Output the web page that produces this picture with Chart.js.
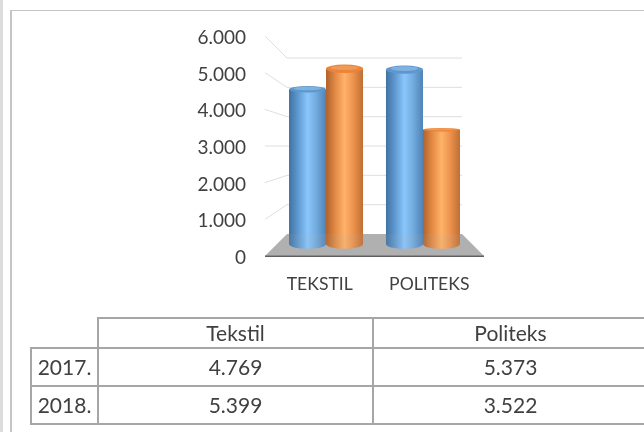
<!DOCTYPE html>
<html>
<head>
<meta charset="utf-8">
<script src="https://cdn.jsdelivr.net/npm/chart.js@4"></script>
<style>
html,body{margin:0;padding:0;background:#fff;width:644px;height:432px;overflow:hidden}
#wrap{position:relative;width:644px;height:432px;overflow:hidden}
canvas{position:absolute;left:0;top:0}
.ln{position:absolute;background:#c4c4c4}
table{position:absolute;left:30px;top:317px;border-collapse:collapse;table-layout:fixed;width:617px;
 font-family:Lato,sans-serif;font-size:21px;color:#404040}
td{border:2px solid #a6a6a6;padding:0 0 2px 0;text-align:center;box-sizing:border-box;line-height:1}
td.blank{border-top:none;border-left:none}
</style>
</head>
<body>
<div id="wrap">
<canvas id="c" width="644" height="432"></canvas>
<div class="ln" style="left:0;top:0;width:3px;height:432px;background:#dcdcdc"></div>
<div class="ln" style="left:10px;top:10px;width:2px;height:422px"></div>
<div class="ln" style="left:10px;top:10px;width:634px;height:1px"></div>
<table id="t"></table>
</div>
<script>
const categories = ["TEKSTIL", "POLITEKS"];
const yearLabels = ["2017.", "2018."];
const tableHeads = ["Tekstil", "Politeks"];
const values2017 = [4769, 5373];
const values2018 = [5399, 3522];
const tickLabels = ["0", "1.000", "2.000", "3.000", "4.000", "5.000", "6.000"];

const FONT = 'Lato, sans-serif';
const DEPTH_SCALE = 0.885;

const rows = [
  ["", ...tableHeads],
  [yearLabels[0], ...values2017.map(v => tickFmt(v))],
  [yearLabels[1], ...values2018.map(v => tickFmt(v))]
];
function tickFmt(v){ const s = String(v); return s.slice(0, -3) + "." + s.slice(-3); }
const t = document.getElementById("t");
t.innerHTML = '<colgroup><col style="width:67px"><col style="width:275px"><col style="width:275px"></colgroup>' +
  rows.map((r, i) => '<tr style="height:' + (i === 0 ? 30 : 38) + 'px">' +
    r.map((c, j) => '<td' + (i === 0 && j === 0 ? ' class="blank"' : '') + '>' + c + '</td>').join('') + '</tr>').join('');

const FLOOR = "#b0b0b0";
const LIFT = 2; // the room sits slightly above the tick label centres
const room = {
  id: "room",
  beforeDatasetsDraw(chart) {
    const { ctx, chartArea: a, scales: { y } } = chart;
    const inset = 22, bottomBack = a.bottom - 22;
    const backScale = (bottomBack - (a.top + 22)) / (a.bottom - a.top);
    ctx.save();
    ctx.translate(0, -LIFT);
    ctx.strokeStyle = "#dedede";
    ctx.lineWidth = 1;
    y.ticks.forEach(tk => {
      const py = y.getPixelForValue(tk.value);
      const by = bottomBack - (a.bottom - py) * backScale;
      ctx.beginPath();
      if (tk.value !== 0) {
        ctx.moveTo(a.left, py);
        ctx.lineTo(a.left + inset, by);
        ctx.lineTo(a.right - inset, by);
        ctx.stroke();
      }
    });
    ctx.fillStyle = FLOOR;
    floorPath(ctx, a, inset, bottomBack);
    ctx.fill();
    ctx.fillStyle = "#5f5f5f";
    ctx.fillRect(a.left, a.bottom - 0.5, a.right - a.left, 1.5);
    const cx = (a.left + a.right) / 2;
    ctx.translate(cx, a.bottom - 12);
    ctx.scale(DEPTH_SCALE, DEPTH_SCALE);
    ctx.translate(-cx, -a.bottom);
  },
  afterDatasetsDraw(chart) {
    const { ctx, chartArea: a } = chart;
    const palettes = [
      { stops: ["#41729f", "#5f9ad2", "#8ac6fb", "#74addf", "#4f83b8"], top: "#5e97cd", lip: "#7fb2e0" },
      { stops: ["#ad622c", "#e38a45", "#ffb269", "#ee9550", "#c06e33"], top: "#ea8438", lip: "#f09a58" }
    ];
    chart.data.datasets.forEach((ds, di) => {
      const p = palettes[di];
      chart.getDatasetMeta(di).data.forEach(b => {
        const hw = b.width / 2;
        const g = ctx.createLinearGradient(b.x - hw, 0, b.x + hw, 0);
        p.stops.forEach((c, i) => g.addColorStop([0, 0.25, 0.5, 0.72, 1][i], c));
        ctx.fillStyle = g;
        ctx.fillRect(b.x - hw, b.y, b.width, b.base - b.y);
        ctx.beginPath();
        ctx.ellipse(b.x, b.base, hw, 5.5, 0, 0, Math.PI * 2);
        ctx.fill();
        const ry = Math.max(2, Math.abs(b.y - 165) * 0.045);
        ctx.beginPath();
        ctx.ellipse(b.x, b.y, hw, ry, 0, 0, Math.PI * 2);
        ctx.fillStyle = p.top;
        ctx.fill();
        ctx.beginPath();
        ctx.ellipse(b.x, b.y - ry * 0.25, hw * 0.75, ry * 0.55, 0, 0, Math.PI * 2);
        ctx.fillStyle = p.lip;
        ctx.fill();
      });
    });
    ctx.restore();
    ctx.save();
    ctx.translate(0, -LIFT);
    ctx.fillStyle = "rgba(176,176,176,0.1)";
    floorPath(ctx, a, 22, a.bottom - 22);
    ctx.fill();
    ctx.restore();
  }
};
function floorPath(ctx, a, inset, backY) {
  ctx.beginPath();
  ctx.moveTo(a.left, a.bottom);
  ctx.lineTo(a.right, a.bottom);
  ctx.lineTo(a.right - inset, backY);
  ctx.lineTo(a.left + inset, backY);
  ctx.closePath();
}

new Chart(document.getElementById("c"), {
  type: "bar",
  data: {
    labels: categories,
    datasets: [
      { label: "2017.", data: values2017, backgroundColor: "#5b9bd5", borderWidth: 0, categoryPercentage: 0.763, barPercentage: 1 },
      { label: "2018.", data: values2018, backgroundColor: "#ed7d31", borderWidth: 0, categoryPercentage: 0.763, barPercentage: 1 }
    ]
  },
  plugins: [room],
  options: {
    responsive: false,
    animation: false,
    events: [],
    layout: { padding: { left: 185, right: 160, top: 38, bottom: 130 } },
    plugins: { legend: { display: false }, title: { display: false }, tooltip: { enabled: false } },
    scales: {
      x: {
        grid: { display: false, drawTicks: false },
        border: { display: false },
        ticks: { color: "#404040", font: { family: FONT, size: 17.6 }, padding: 16, maxRotation: 0 },
        afterFit(s) { s.height = 44; }
      },
      y: {
        min: 0, max: 6000,
        grid: { display: false, drawTicks: false },
        border: { display: false },
        ticks: {
          stepSize: 1000, padding: 19, color: "#404040", font: { family: FONT, size: 19 },
          callback: (v) => tickLabels[v / 1000]
        },
        afterFit(s) { s.width = 80; }
      }
    }
  }
});
</script>
</body>
</html>
